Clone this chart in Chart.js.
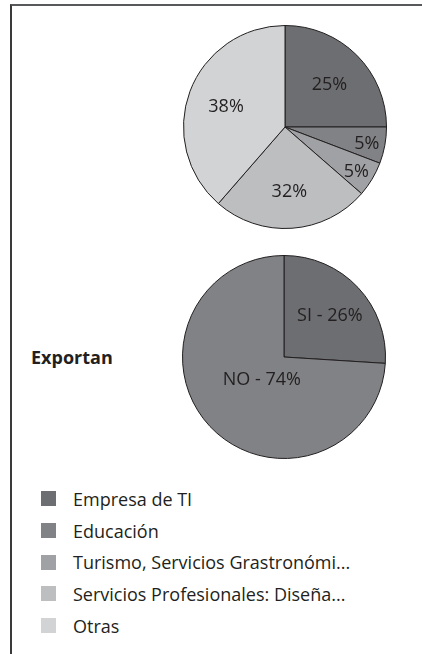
<!DOCTYPE html>
<html>
<head>
<meta charset="utf-8">
<script src="https://cdn.jsdelivr.net/npm/chart.js@4/dist/chart.umd.min.js"></script>
<style>
  html, body { margin: 0; padding: 0; background: #fff; }
  body { width: 422px; height: 654px; position: relative; overflow: hidden; font-family: 'Open Sans', sans-serif; color: #231f20; }
  .frame { position: absolute; left: 10px; top: 4px; right: -4px; bottom: -4px; border-top: 2px solid #58595b; border-left: 2px solid #3a3a3c; }
  .box { position: absolute; }
  #title2 { position: absolute; left: 31px; top: 345px; font-weight: bold; font-size: 18px; }
  #legend { position: absolute; left: 41px; top: 483px; margin: 0; padding: 0; list-style: none; }
  #legend li { height: 31.7px; display: flex; align-items: center; font-size: 18px; white-space: nowrap; }
  #legend span.sw { width: 15px; height: 15px; margin-right: 17px; display: inline-block; }
</style>
</head>
<body>
<div class="frame"></div>
<div class="box" style="left:183px;top:25px;width:204px;height:204px"><canvas id="sectorChart"></canvas></div>
<div id="title2">Exportan</div>
<div class="box" style="left:182px;top:255px;width:204px;height:204px"><canvas id="exportChart"></canvas></div>
<ul id="legend"></ul>
<script>
// Rubro de las empresas
const sectorLabels = ['Empresa de TI', 'Educación', 'Turismo, Servicios Grastronómi...', 'Servicios Profesionales: Diseña...', 'Otras'];
// slice sizes as drawn in the picture (the printed labels don't add up)
const sectorValues = [25, 5.8, 5.6, 25, 38.6];
const sectorText = ['25%', '5%', '5%', '32%', '38%'];
const sectorColors = ['#6d6e71', '#808285', '#a0a1a4', '#bcbec0', '#d1d3d4'];

// Exportan
const exportLabels = ['SI', 'NO'];
const exportValues = [26, 74];
const exportText = ['SI - 26%', 'NO - 74%'];
const exportColors = ['#6d6e71', '#808285'];

const sliceText = {
  id: 'sliceText',
  afterDatasetsDraw(chart, args, opts) {
    const ctx = chart.ctx;
    const meta = chart.getDatasetMeta(0);
    ctx.save();
    ctx.font = '18px "Open Sans", sans-serif';
    ctx.fillStyle = '#231f20';
    ctx.textAlign = 'center';
    ctx.textBaseline = 'middle';
    meta.data.forEach((arc, i) => {
      const mid = (arc.startAngle + arc.endAngle) / 2;
      const span = arc.endAngle - arc.startAngle;
      let frac = span < 0.5 ? 0.82 : 0.62;
      if (span > 4) frac = 0.3; // dominant slice: label sits near the middle
      const x = arc.x + Math.cos(mid) * arc.outerRadius * frac;
      const y = arc.y + Math.sin(mid) * arc.outerRadius * frac + 2;
      ctx.fillText(opts.text[i], x, y);
    });
    ctx.restore();
  }
};

function pieOptions(text) {
  return {
    responsive: true,
    maintainAspectRatio: false,
    animation: false,
    layout: { padding: 0 },
    plugins: {
      legend: { display: false },
      tooltip: { enabled: false },
      sliceText: { text: text }
    }
  };
}

new Chart(document.getElementById('sectorChart'), {
  type: 'pie',
  data: {
    labels: sectorLabels,
    datasets: [{ data: sectorValues, backgroundColor: sectorColors, borderColor: '#231f20', borderWidth: 1 }]
  },
  options: pieOptions(sectorText),
  plugins: [sliceText]
});

new Chart(document.getElementById('exportChart'), {
  type: 'pie',
  data: {
    labels: exportLabels,
    datasets: [{ data: exportValues, backgroundColor: exportColors, borderColor: '#231f20', borderWidth: 1 }]
  },
  options: pieOptions(exportText),
  plugins: [sliceText]
});

// legend for the sector chart
const legendEl = document.getElementById('legend');
sectorLabels.forEach((lbl, i) => {
  const li = document.createElement('li');
  li.innerHTML = `<span class="sw" style="background:${sectorColors[i]}"></span>${lbl}`;
  legendEl.appendChild(li);
});
</script>
</body>
</html>
